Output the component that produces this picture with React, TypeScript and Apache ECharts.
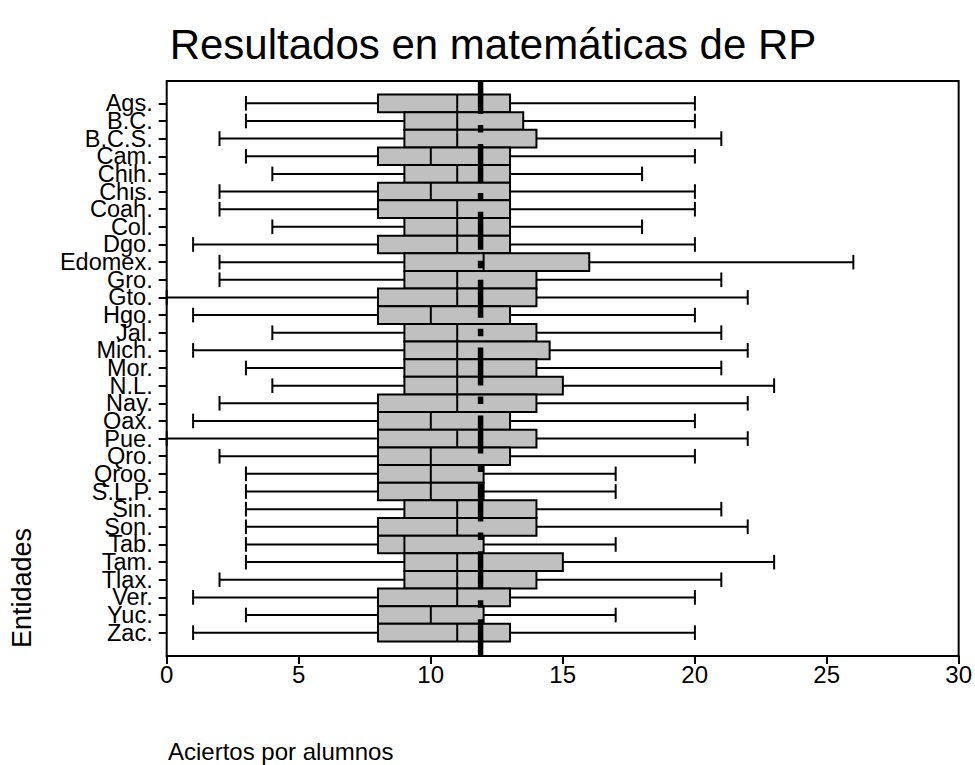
import React, { useEffect, useRef } from "react";
import * as echarts from "echarts";

// Entidades federativas (eje vertical, de arriba hacia abajo)
const entidades = [
  "Ags.", "B.C.", "B.C.S.", "Cam.", "Chih.", "Chis.", "Coah.", "Col.", "Dgo.", "Edomex.",
  "Gro.", "Gto.", "Hgo.", "Jal.", "Mich.", "Mor.", "N.L.", "Nay.", "Oax.", "Pue.",
  "Qro.", "Qroo.", "S.L.P.", "Sin.", "Son.", "Tab.", "Tam.", "Tlax.", "Ver.", "Yuc.", "Zac.",
];

// Estadísticos de cada caja: bigote inferior, Q1, mediana, Q3, bigote superior
const bigoteInf = [3, 3, 2, 3, 4, 2, 2, 4, 1, 2, 2, 0, 1, 4, 1, 3, 4, 2, 1, 0, 2, 3, 3, 3, 3, 3, 3, 2, 1, 3, 1];
const cuartil1 = [8, 9, 9, 8, 9, 8, 8, 9, 8, 9, 9, 8, 8, 9, 9, 9, 9, 8, 8, 8, 8, 8, 8, 9, 8, 8, 9, 9, 8, 8, 8];
const mediana = [11, 11, 11, 10, 11, 10, 11, 11, 11, 12, 11, 11, 10, 11, 11, 11, 11, 11, 10, 11, 10, 10, 10, 11, 11, 9, 11, 11, 11, 10, 11];
const cuartil3 = [13, 13.5, 14, 13, 13, 13, 13, 13, 13, 16, 14, 14, 13, 14, 14.5, 14, 15, 14, 13, 14, 13, 12, 12, 14, 14, 12, 15, 14, 13, 12, 13];
const bigoteSup = [20, 20, 21, 20, 18, 20, 20, 18, 20, 26, 21, 22, 20, 21, 22, 21, 23, 22, 20, 22, 20, 17, 17, 21, 22, 17, 23, 21, 20, 17, 20];

// Promedio nacional (línea vertical punteada)
const promedioNacional = 11.89;

// Eje de aciertos
const ejeMin = 0;
const ejeMax = 30;
const ejePaso = 5;

const FONT = "'Liberation Sans', Arial, Helvetica, sans-serif";

const oculto = {
  show: false,
  axisLine: { show: false, onZero: false },
  axisTick: { show: false },
  axisLabel: { show: false },
  splitLine: { show: false },
};

export default function App() {
  const ref = useRef<HTMLDivElement>(null);

  useEffect(() => {
    const chart = echarts.init(ref.current!, null, { renderer: "svg" });

    const cajas = entidades.map((e, i) => [
      e, bigoteInf[i], cuartil1[i], mediana[i], cuartil3[i], bigoteSup[i],
    ]);

    chart.setOption({
      animation: false,
      backgroundColor: "#ffffff",
      grid: [
        {
          left: 166.7, right: 16, top: 81, bottom: 109,
          show: true, borderColor: "#000", borderWidth: 2, backgroundColor: "transparent",
        },
        { left: 166.7, right: 16, top: 94.5, bottom: 123.5 },
      ],
      xAxis: [
        {
          gridIndex: 0, type: "value", position: "bottom", min: ejeMin, max: ejeMax, interval: ejePaso,
          axisLine: { show: true, onZero: false, lineStyle: { color: "#000", width: 2 } },
          axisTick: { show: true, inside: false, length: 8, lineStyle: { color: "#000", width: 2 } },
          axisLabel: { color: "#000", fontSize: 24, fontFamily: FONT, margin: 6 },
          splitLine: { show: false },
        },
        { gridIndex: 1, type: "value", min: ejeMin, max: ejeMax, ...oculto },
      ],
      yAxis: [
        { gridIndex: 0, type: "value", min: 0, max: 1, inverse: true, ...oculto },
        {
          gridIndex: 1, type: "category", data: entidades, inverse: true, boundaryGap: true,
          axisLine: { show: false, onZero: false },
          axisTick: { show: true, alignWithLabel: true, length: 8, lineStyle: { color: "#000", width: 2 } },
          axisLabel: { color: "#000", fontSize: 23.5, fontFamily: FONT, margin: 14, interval: 0 },
          splitLine: { show: false },
        },
      ],
      series: [
        {
          type: "custom",
          xAxisIndex: 1,
          yAxisIndex: 1,
          data: cajas,
          encode: { y: 0, x: [1, 2, 3, 4, 5] },
          z: 2,
          renderItem: (_params: any, api: any) => {
            const cat = api.value(0);
            const pts = [1, 2, 3, 4, 5].map((d) => api.coord([api.value(d), cat]));
            const band = api.size([0, 1])[1];
            const h = band;
            const cap = band * 0.83;
            const y = pts[0][1];
            const ls = { stroke: "#000", lineWidth: 2 };
            return {
              type: "group",
              children: [
                { type: "line", shape: { x1: pts[0][0], y1: y, x2: pts[1][0], y2: y }, style: ls },
                { type: "line", shape: { x1: pts[3][0], y1: y, x2: pts[4][0], y2: y }, style: ls },
                { type: "line", shape: { x1: pts[0][0], y1: y - cap / 2, x2: pts[0][0], y2: y + cap / 2 }, style: ls },
                { type: "line", shape: { x1: pts[4][0], y1: y - cap / 2, x2: pts[4][0], y2: y + cap / 2 }, style: ls },
                {
                  type: "rect",
                  shape: { x: pts[1][0], y: y - h / 2, width: pts[3][0] - pts[1][0], height: h },
                  style: { fill: "#C0C0C0", stroke: "#000", lineWidth: 2 },
                },
                { type: "line", shape: { x1: pts[2][0], y1: y - h / 2, x2: pts[2][0], y2: y + h / 2 }, style: ls },
              ],
            };
          },
        },
        {
          type: "line",
          xAxisIndex: 0,
          yAxisIndex: 0,
          data: [[promedioNacional, 0], [promedioNacional, 1]],
          symbol: "none",
          silent: true,
          z: 5,
          lineStyle: { color: "#000", width: 5.5, type: [38, 11, 7.5, 11.4], dashOffset: 5.2, cap: "butt" },
        },
      ],
      graphic: [
        {
          type: "text",
          x: 493,
          y: 44,
          style: {
            text: "Resultados en matemáticas de RP", fontSize: 42, fontFamily: FONT, fill: "#000",
            textAlign: "center", textVerticalAlign: "middle",
          },
        },
        {
          type: "text",
          x: 168,
          y: 751,
          style: {
            text: "Aciertos por alumnos", fontSize: 24, fontFamily: FONT, fill: "#000",
            textVerticalAlign: "middle",
          },
        },
        {
          type: "text",
          x: 22,
          y: 588,
          rotation: Math.PI / 2,
          style: {
            text: "Entidades", fontSize: 27, fontFamily: FONT, fill: "#000",
            textAlign: "center", textVerticalAlign: "middle",
          },
        },
      ],
    });

    return () => chart.dispose();
  }, []);

  return (
    <div
      ref={ref}
      style={{ position: "fixed", left: 0, top: 0, width: 975, height: 765, background: "#fff" }}
    />
  );
}
